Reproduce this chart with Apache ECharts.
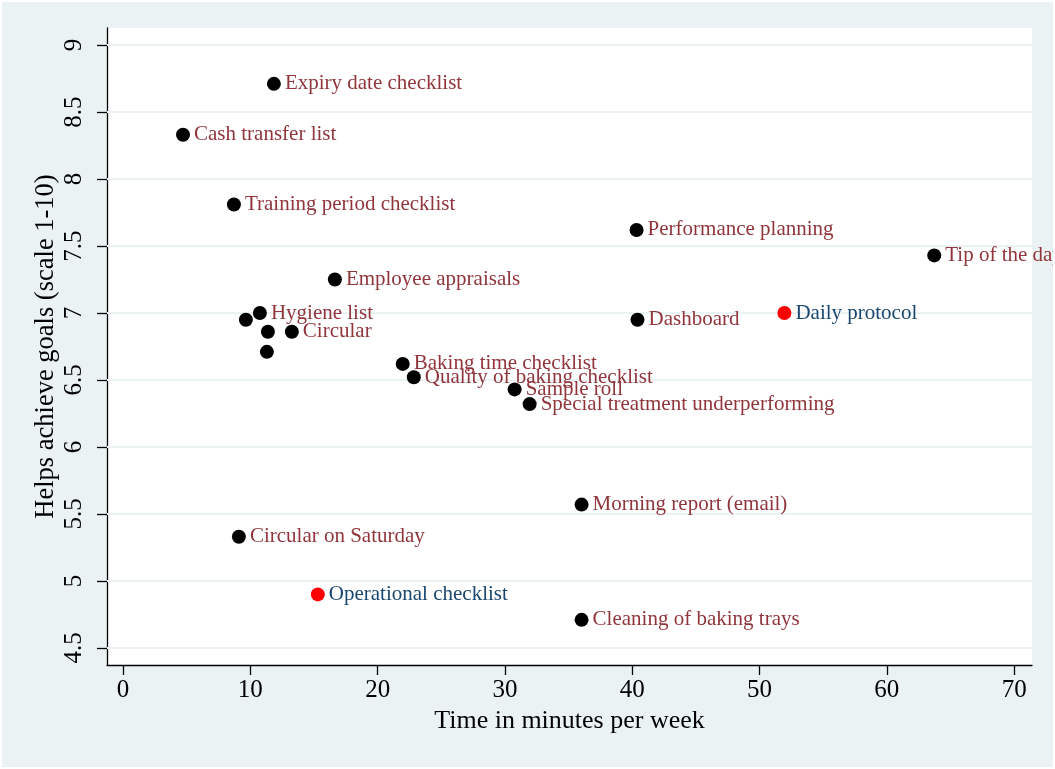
<!DOCTYPE html>
<html>
<head>
<meta charset="utf-8">
<script src="https://cdn.jsdelivr.net/npm/echarts@6/dist/echarts.min.js"></script>
<style>
html,body{margin:0;padding:0;background:#ffffff;}
#c{position:absolute;left:2px;top:2px;width:1051px;height:765px;}
</style>
</head>
<body>
<div id="c"></div>
<script>
// Black markers (maroon labels)
const blackNames = ["Expiry date checklist","Cash transfer list","Training period checklist","Performance planning","Tip of the day","Employee appraisals","Hygiene list","","Dashboard","","Circular","","Baking time checklist","Quality of baking checklist","Sample roll","Special treatment underperforming","Morning report (email)","Circular on Saturday","Cleaning of baking trays"];
const blackX = [11.85,4.71,8.71,40.34,63.72,16.64,10.75,9.65,40.41,11.38,13.26,11.3,21.97,22.84,30.76,31.94,36.02,9.1,36.02];
const blackY = [8.71,8.33,7.81,7.62,7.43,7.25,7.0,6.95,6.95,6.86,6.86,6.71,6.62,6.52,6.43,6.32,5.57,5.33,4.71];
// Red markers (navy labels)
const redNames = ["Daily protocol","Operational checklist"];
const redX = [51.95,15.3];
const redY = [7.0,4.9];
// Tick values
const xTicks = [0,10,20,30,40,50,60,70];
const yTicks = [4.5,5,5.5,6,6.5,7,7.5,8,8.5,9];

const FONT = "'Liberation Serif','Times New Roman',serif";
const toData = (xs, ys, ns) => xs.map((x,i)=>({value:[x, ys[i]], name: ns[i]}));

const chart = echarts.init(document.getElementById('c'));
chart.setOption({
  backgroundColor: '#EAF2F3',
  animation: false,
  grid: {left:105, top:26, right:21, bottom:102, show:true, backgroundColor:'#ffffff', borderWidth:0},
  xAxis: {
    type:'value', min:-1.26, max:71.4,
    name:'Time in minutes per week', nameLocation:'middle', nameGap:42,
    nameTextStyle:{fontFamily:FONT, fontSize:26, color:'#000'},
    axisLine:{show:true, onZero:false, lineStyle:{color:'#000', width:1.3}},
    axisTick:{show:true, length:10, lineStyle:{color:'#000', width:1.3}, customValues:xTicks},
    axisLabel:{fontFamily:FONT, fontSize:25, color:'#000', margin:13, customValues:xTicks},
    splitLine:{show:false}
  },
  yAxis: {
    type:'value', min:4.373, max:9.127,
    name:'Helps achieve goals (scale 1-10)', nameLocation:'middle', nameGap:47, nameRotate:90,
    nameMoveOverlap:false,
    nameTextStyle:{fontFamily:FONT, fontSize:26.5, color:'#000'},
    axisLine:{show:true, onZero:false, lineStyle:{color:'#000', width:1.3}},
    axisTick:{show:true, length:10, lineStyle:{color:'#000', width:1.3}, customValues:yTicks},
    axisLabel:{fontFamily:FONT, fontSize:25, color:'#000', margin:20, rotate:90, customValues:yTicks},
    splitLine:{show:false}
  },
  series: [
    {
      type:'scatter', symbolSize:14, z:3,
      itemStyle:{color:'#000000', opacity:1},
      data: toData(blackX, blackY, blackNames),
      label:{show:true, position:'right', distance:4, formatter:p=>p.name, fontFamily:FONT, fontSize:21, color:'#90353B'},
      markLine:{
        silent:true, symbol:['none','none'], label:{show:false}, z:1,
        lineStyle:{color:'#EAF2F3', width:2, type:'solid', opacity:1},
        data: yTicks.map(v=>({yAxis:v}))
      }
    },
    {
      type:'scatter', symbolSize:14, z:3,
      itemStyle:{color:'#FF0000', opacity:1},
      data: toData(redX, redY, redNames),
      label:{show:true, position:'right', distance:4, formatter:p=>p.name, fontFamily:FONT, fontSize:21, color:'#1A476F'}
    }
  ]
});
</script>
</body>
</html>
